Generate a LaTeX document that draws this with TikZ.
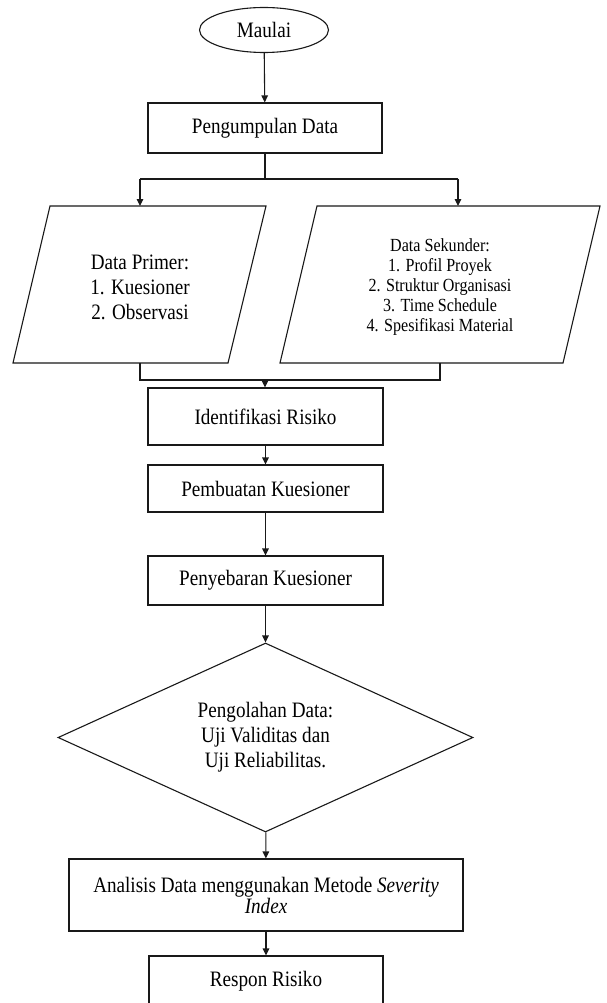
\documentclass[tikz,border=0pt]{standalone}
\usepackage{fontspec}
\setmainfont[FakeStretch=0.87]{Liberation Serif}
\usetikzlibrary{shapes.geometric,arrows.meta}
\begin{document}
\begin{tikzpicture}[x=1pt,y=-1pt,
  line/.style={draw=black!90, line width=1.1pt},
  arr/.style={line, -{Triangle[length=7pt,width=6.5pt]}},
  txt/.style={font=\fontsize{22}{25}\selectfont, align=center, inner sep=0pt},
  smalltxt/.style={font=\fontsize{18.5}{20.2}\selectfont, align=center, inner sep=0pt},
  box/.style={line, rectangle, txt},
  oval/.style={line, ellipse, txt},
  decision/.style={line, diamond, aspect=2.2, txt},
  every node/.append style={fill=white}
]
\useasboundingbox (0,0) rectangle (606,1003);

% start
\node[oval, minimum width=129pt, minimum height=45pt] (start) at (264,30) {Maulai};
\node[box, minimum width=234pt, minimum height=50pt] (collect) at (265,128) {Pengumpulan Data};

% split
\coordinate (split) at (265,179);
\coordinate (sl) at (140,179);
\coordinate (sr) at (458,179);
\coordinate (primtop) at (140,206);
\coordinate (sektop) at (458,206);

% parallelograms
\draw[line] (50,206) -- (266,206) -- (228,363) -- (13,363) -- cycle;
\draw[line] (317,206) -- (600,206) -- (563,363) -- (280,363) -- cycle;
\node[txt] (prim) at (140,287) {Data Primer:\\1. Kuesioner\\2. Observasi};
\node[smalltxt] (sek) at (440,287) {Data Sekunder:\\1. Profil Proyek\\2. Struktur Organisasi\\3. Time Schedule\\4. Spesifikasi Material};

\coordinate (primbot) at (140,363);
\coordinate (sekbot) at (440,363);
\coordinate (merge) at (265,380);

% process boxes
\node[box, minimum width=235pt, minimum height=57pt] (ident) at (265.5,416.5) {Identifikasi Risiko};
\node[box, minimum width=235pt, minimum height=47pt] (buat) at (265.5,488.5) {Pembuatan Kuesioner};
\node[box, minimum width=235pt, minimum height=49pt] (sebar) at (265.5,580.5) {Penyebaran Kuesioner};
\node[decision, minimum width=415pt, minimum height=189pt] (olah) at (265.5,737.5) {Pengolahan Data:\\Uji Validitas dan\\Uji Reliabilitas.};
\node[box, minimum width=394pt, minimum height=72pt, font=\fontsize{22}{20}\selectfont] (analisis) at (266,895) {Analisis Data menggunakan Metode \textit{Severity}\\\textit{Index}};
\node[box, minimum width=234pt, minimum height=50pt] (respon) at (266,981) {Respon Risiko};

% connectors
\draw[arr] (start) -- (collect);
\draw[line] (collect.south) -- (split);
\draw[line] (sl) -- (sr);
\draw[arr] (sl) -- (primtop);
\draw[arr] (sr) -- (sektop);
\draw[line] (primbot) |- (merge) -| (sekbot);
\draw[arr] (merge) -- (merge |- ident.north);
\draw[arr] (ident) -- (buat);
\draw[arr] (buat) -- (sebar);
\draw[arr] (sebar) -- (olah);
\draw[arr] (olah) -- (analisis);
\draw[arr] (analisis) -- (respon);
\end{tikzpicture}
\end{document}
